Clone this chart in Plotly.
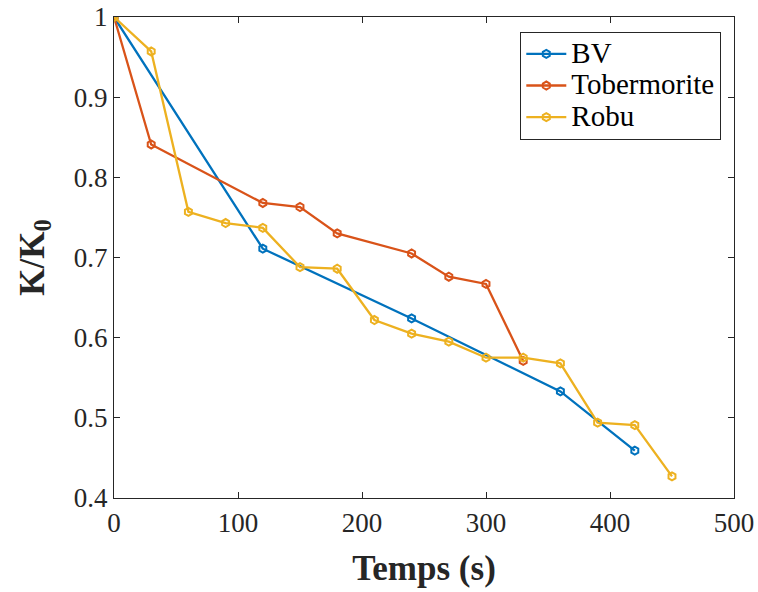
import plotly.graph_objects as go

bv_t = [0, 120, 240, 360, 420]
bv_k = [1.0, 0.711, 0.624, 0.533, 0.459]

tob_t = [0, 30, 120, 150, 180, 240, 270, 300, 330]
tob_k = [1.0, 0.841, 0.768, 0.763, 0.730, 0.705, 0.676, 0.667, 0.571]

robu_t = [0, 30, 60, 90, 120, 150, 180, 210, 240, 270, 300, 330, 360, 390, 420, 450]
robu_k = [1.0, 0.957, 0.757, 0.743, 0.737, 0.688, 0.686, 0.622, 0.605, 0.595,
          0.575, 0.575, 0.568, 0.494, 0.491, 0.427]

series = [
    ("BV", bv_t, bv_k, "#0072BD"),
    ("Tobermorite", tob_t, tob_k, "#D95319"),
    ("Robu", robu_t, robu_k, "#EDB120"),
]

fig = go.Figure()
for name, t, k, c in series:
    fig.add_trace(go.Scatter(
        x=t, y=k, mode="lines+markers",
        name="<span style='font-size:29px'>" + name + "</span>",
        line=dict(color=c, width=2.3),
        marker=dict(symbol="hexagon-open", size=8, color=c, line=dict(width=2, color=c)),
    ))

font = "Liberation Serif, Times New Roman, serif"
axis_common = dict(
    showline=True, linecolor="#262626", linewidth=1.2, mirror="ticks",
    ticks="inside", ticklen=6, tickcolor="#262626", showgrid=False, zeroline=False,
    tickfont=dict(family=font, size=27, color="#262626"), automargin=False,
    ticklabeloverflow="allow",
)
fig.update_layout(
    width=758, height=592,
    margin=dict(l=114, r=24, t=17, b=94),
    paper_bgcolor="white", plot_bgcolor="white",
    xaxis=dict(range=[0, 500], tickvals=[0, 100, 200, 300, 400, 500],
               title=dict(text="<b>Temps (s)</b>", font=dict(family=font, size=35, color="#262626"), standoff=18),
               **axis_common),
    yaxis=dict(range=[0.4, 1.0], tickvals=[0.4, 0.5, 0.6, 0.7, 0.8, 0.9, 1.0],
               ticktext=["0.4", "0.5", "0.6", "0.7", "0.8", "0.9", "1"],
               title=dict(text="<b>K/K<sub>0</sub></b>", font=dict(family=font, size=35, color="#262626"), standoff=18),
               **axis_common),
    legend=dict(x=0.655, y=0.969, xanchor="left", yanchor="top",
                bgcolor="white", bordercolor="#262626", borderwidth=1.2,
                font=dict(family=font, size=22, color="black"),
                tracegroupgap=0, itemwidth=40),
    showlegend=True,
)
fig.write_html(
    "out.html",
    config={"displayModeBar": False},
    post_script="document.body.style.margin='0';document.body.style.overflow='hidden';",
)
